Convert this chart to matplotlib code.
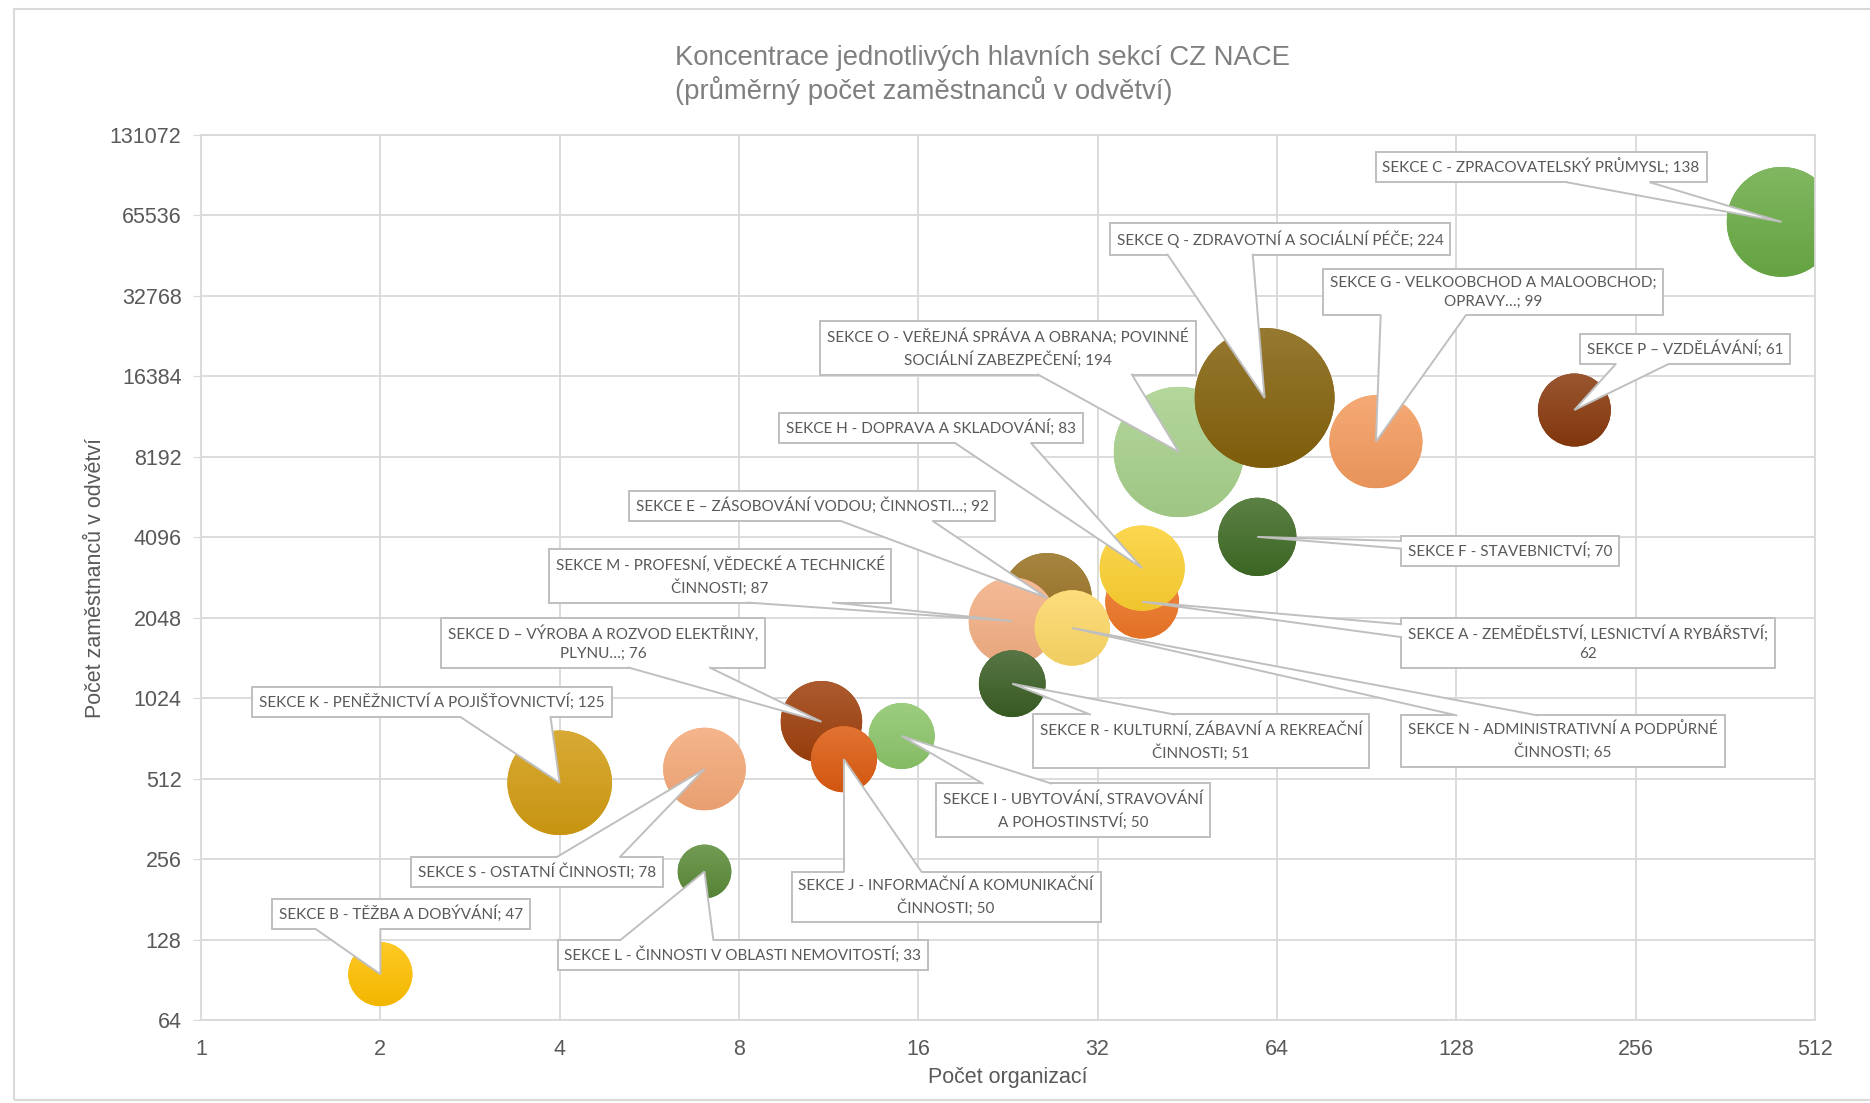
import numpy as np
import matplotlib
matplotlib.use('Agg')
import matplotlib.pyplot as plt
import matplotlib.transforms as mtransforms
from matplotlib.patches import Circle, Rectangle, Polygon
from matplotlib.lines import Line2D
from matplotlib.colors import LinearSegmentedColormap, to_rgb

# data (sekce A..S, poradi vykreslovani jako v Excelu)
popisky = [
    'SEKCE A - ZEMĚDĚLSTVÍ, LESNICTVÍ A RYBÁŘSTVÍ;\n62',
    'SEKCE B - TĚŽBA A DOBÝVÁNÍ; 47',
    'SEKCE C - ZPRACOVATELSKÝ PRŮMYSL; 138',
    'SEKCE D – VÝROBA A ROZVOD ELEKTŘINY,\nPLYNU…; 76',
    'SEKCE E – ZÁSOBOVÁNÍ VODOU; ČINNOSTI…; 92',
    'SEKCE F - STAVEBNICTVÍ; 70',
    'SEKCE G - VELKOOBCHOD A MALOOBCHOD;\nOPRAVY…; 99',
    'SEKCE H - DOPRAVA A SKLADOVÁNÍ; 83',
    'SEKCE I - UBYTOVÁNÍ, STRAVOVÁNÍ\nA POHOSTINSTVÍ; 50',
    'SEKCE J - INFORMAČNÍ A KOMUNIKAČNÍ\nČINNOSTI; 50',
    'SEKCE K - PENĚŽNICTVÍ A POJIŠŤOVNICTVÍ; 125',
    'SEKCE L - ČINNOSTI V OBLASTI NEMOVITOSTÍ; 33',
    'SEKCE M - PROFESNÍ, VĚDECKÉ A TECHNICKÉ\nČINNOSTI; 87',
    'SEKCE N - ADMINISTRATIVNÍ A PODPŮRNÉ\nČINNOSTI; 65',
    'SEKCE O - VEŘEJNÁ SPRÁVA A OBRANA; POVINNÉ\nSOCIÁLNÍ ZABEZPEČENÍ; 194',
    'SEKCE P – VZDĚLÁVÁNÍ; 61',
    'SEKCE Q - ZDRAVOTNÍ A SOCIÁLNÍ PÉČE; 224',
    'SEKCE R - KULTURNÍ, ZÁBAVNÍ A REKREAČNÍ\nČINNOSTI; 51',
    'SEKCE S - OSTATNÍ ČINNOSTI; 78',
]
organizace = [38, 2, 450, 11, 26.3, 59.3, 93.8, 38, 15, 12, 4, 7, 23, 29, 43.8, 202, 61, 23, 7]
zamestnanci = [2350, 95, 62000, 836, 2430, 4110, 9330, 3140, 739, 605, 494, 230, 1990, 1875,
               8540, 12260, 13600, 1160, 556]
velikost = [62, 47, 138, 76, 92, 70, 99, 83, 50, 50, 125, 33, 87, 65, 194, 61, 224, 51, 78]
barvy = ['#EE7626', '#FFC000', '#6AAB45', '#9E3F0C', '#977020', '#3F6B25', '#F49B5E', '#FCD031',
         '#8CC56A', '#DD5B10', '#D29C12', '#5A8A37', '#F3AF84', '#FDD866', '#A7D08B', '#88390C',
         '#84620C', '#3A5E24', '#F4A877']

xticks = [1, 2, 4, 8, 16, 32, 64, 128, 256, 512]
yticks = [64, 128, 256, 512, 1024, 2048, 4096, 8192, 16384, 32768, 65536, 131072]

# pozice popisku (pixely od leveho horniho rohu)
pos_popisku = [(1588, 643), (401, 914), (1541, 167), (603, 643), (812, 506), (1510, 551),
               (1493, 292), (931, 428), (1073, 810), (946, 897), (432, 702), (743, 955),
               (720, 576), (1563, 741), (1008, 348), (1685, 349), (1280, 239), (1201, 741),
               (537, 872)]
# strana ramecku, ze ktere vychazi ukazatel, a jeho rozsah (podil delky strany)
LEVA, PRAVA = (0.17, 0.42), (0.58, 0.83)
ukazatel = [('vlevo', (0.12, 0.38)), ('dole', LEVA), ('dole', PRAVA), ('dole', PRAVA),
            ('dole', PRAVA), ('vlevo', LEVA), ('dole', LEVA), ('dole', PRAVA), ('nahore', LEVA),
            ('nahore', LEVA), ('dole', PRAVA), ('nahore', LEVA), ('dole', PRAVA), ('nahore', LEVA),
            ('dole', PRAVA), ('dole', LEVA), ('dole', LEVA), ('nahore', LEVA), ('nahore', PRAVA)]

W, H = 1870, 1103
fig = plt.figure(figsize=(W / 100, H / 100), dpi=100)
ax = fig.add_axes([201 / W, 1 - 1020 / H, (1815 - 201) / W, (1020 - 135) / H])
ax.set_xscale('log', base=2)
ax.set_yscale('log', base=2)

def mix(c, t, f):
    c = np.array(to_rgb(c)); t = np.array(to_rgb(t))
    return tuple(c * (1 - f) + t * f)

grad = np.linspace(0, 1, 256).reshape(-1, 1)
for x, y, v, c in zip(organizace, zamestnanci, velikost, barvy):
    r = 0.04675 * np.sqrt(v)  # palce
    tr = fig.dpi_scale_trans + mtransforms.ScaledTranslation(x, y, ax.transData)
    circ = Circle((0, 0), r, transform=tr, facecolor=c, edgecolor='none', zorder=2)
    ax.add_patch(circ)
    cmap = LinearSegmentedColormap.from_list('g', [mix(c, 'black', 0.05), mix(c, 'white', 0.15)])
    im = ax.imshow(grad, cmap=cmap, extent=(-r, r, -r, r), origin='lower', transform=tr,
                   aspect='auto', interpolation='bilinear', zorder=2)
    im.set_clip_path(circ)

ax.set_xlim(1, 512)
ax.set_ylim(64, 131072)
ax.set_xticks(xticks)
ax.set_xticklabels([str(t) for t in xticks])
ax.set_yticks(yticks)
ax.set_yticklabels([str(t) for t in yticks])
ax.minorticks_off()
ax.grid(True, color='#D9D9D9', lw=1.3, zorder=0)
ax.set_axisbelow(True)
for s in ax.spines.values():
    s.set_color('#D9D9D9')
    s.set_linewidth(1.3)
ax.tick_params(axis='y', length=6, color='#D9D9D9', pad=8, labelsize=15.5, labelcolor='#595959')
ax.tick_params(axis='x', length=0, pad=14, labelsize=15.5, labelcolor='#595959')
for t in ax.get_xticklabels() + ax.get_yticklabels():
    t.set_family('Liberation Sans')

lab_font = ['Lato', 'DejaVu Sans']
anns = []
for x, y, txt, (px, py) in zip(organizace, zamestnanci, popisky, pos_popisku):
    a = ax.annotate(txt, xy=(x, y), xycoords='data', xytext=(px, H - py), textcoords='figure pixels',
                    ha='center', va='center', fontsize=11, color='#595959', family=lab_font,
                    multialignment='center', linespacing=1.45, zorder=5, annotation_clip=False,
                    bbox=dict(boxstyle='square,pad=0.45', fc='white', ec='#BFBFBF', lw=1.4))
    anns.append(a)

# ukazatele popisku (tvar "callout" jako v Excelu)
fig.canvas.draw()
renderer = fig.canvas.get_renderer()
ident = mtransforms.IdentityTransform()
for a, x, y, (strana, (f1, f2)) in zip(anns, organizace, zamestnanci, ukazatel):
    bb = a.get_bbox_patch().get_window_extent(renderer)
    tip = ax.transData.transform((x, y))
    if strana == 'dole':
        p1 = (bb.x0 + f1 * bb.width, bb.y0); p2 = (bb.x0 + f2 * bb.width, bb.y0); d = (0, 3)
    elif strana == 'nahore':
        p1 = (bb.x0 + f1 * bb.width, bb.y1); p2 = (bb.x0 + f2 * bb.width, bb.y1); d = (0, -3)
    else:
        p1 = (bb.x0, bb.y1 - f1 * bb.height); p2 = (bb.x0, bb.y1 - f2 * bb.height); d = (3, 0)
    pts = [(p1[0] + d[0], p1[1] + d[1]), p1, tuple(tip), p2, (p2[0] + d[0], p2[1] + d[1])]
    fig.add_artist(Polygon(pts, closed=True, fc='white', ec='none', transform=ident, zorder=6))
    fig.add_artist(Line2D([p1[0], tip[0], p2[0]], [p1[1], tip[1], p2[1]], color='#BFBFBF',
                          lw=1.4, transform=ident, zorder=6, solid_joinstyle='miter'))

fig.text(675 / W, 1 - 75 / H, 'Koncentrace jednotlivých hlavních sekcí CZ NACE\n(průměrný počet zaměstnanců v odvětví)',
         ha='left', va='center', fontsize=19.8, color='#7F7F7F', family='Liberation Sans', linespacing=1.2)
fig.text(1008 / W, 1 - 1077 / H, 'Počet organizací', ha='center', va='center', fontsize=15.5,
         color='#595959', family='Liberation Sans')
fig.text(96 / W, 1 - 578 / H, 'Počet zaměstnanců v odvětví', ha='center', va='center', fontsize=15.5,
         color='#595959', family='Liberation Sans', rotation=90)

fig.patches.append(Rectangle((14 / W, 3 / H), 1.2, (1100 - 9) / H, transform=fig.transFigure,
                             fill=False, ec='#D9D9D9', lw=1.5))

fig.savefig('out.png', dpi=100, facecolor='white')
